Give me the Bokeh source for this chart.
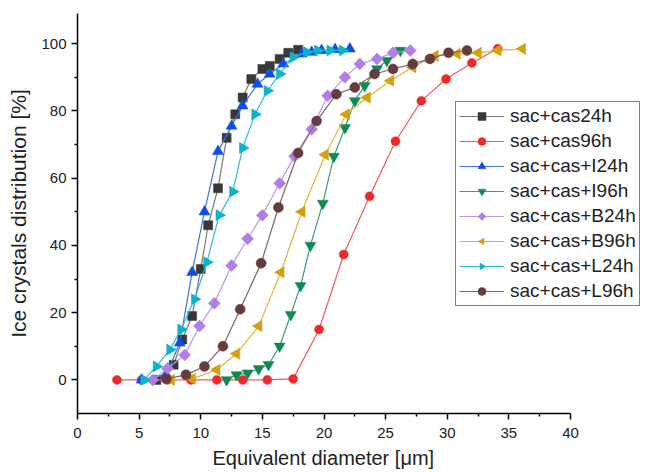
import math
from bokeh.plotting import figure
from bokeh.models import Legend, LegendItem, FixedTicker, ColumnDataSource, Title
from bokeh.embed import file_html
from bokeh.resources import INLINE

# ---- data ----
x_cas24 = [6.4, 7.8, 8.5, 9.3, 10.0, 10.6, 11.4, 12.1, 12.8, 13.4, 14.1, 15.0, 15.6, 16.4, 17.1, 17.9]
y_cas24 = [0, 4.5, 12, 19, 33, 46, 57, 72, 79, 84, 89.5, 92.5, 93.4, 95.5, 97.3, 98.2]

x_cas96 = [3.2, 5.2, 7.3, 9.2, 11.3, 13.4, 15.4, 17.5, 19.6, 21.6, 23.7, 25.8, 27.9, 29.9, 32.0, 34.1]
y_cas96 = [0, 0, 0, 0, 0, 0, 0, 0.3, 15, 37.3, 54.6, 71, 83, 89.5, 94.3, 98.5]

x_i24 = [5.2, 7.2, 8.3, 9.3, 10.3, 11.4, 12.5, 13.4, 14.6, 15.6, 16.7, 18.2, 19.0, 19.8, 20.9, 22.1]
y_i24 = [0, 1.5, 11, 32, 50, 68, 75.5, 81.5, 88, 91, 94, 97, 97.5, 98, 98.3, 98.5]

x_i96 = [12.1, 12.9, 13.8, 14.7, 15.5, 16.4, 17.3, 18.1, 18.9, 19.9, 20.8, 21.7, 22.5, 23.3, 24.3, 25.1, 26.2]
y_i96 = [0, 1.5, 2, 3.3, 4.5, 10, 19.4, 28, 40, 52.5, 66.5, 75, 83, 87.5, 92.5, 95, 98]

x_b24 = [6.1, 7.3, 8.7, 9.9, 11.1, 12.5, 13.8, 15.0, 16.4, 17.6, 19.0, 20.3, 21.7, 22.9, 24.3, 25.6, 27.0]
y_b24 = [0, 3.4, 7.4, 16, 22.8, 34, 42, 49, 58.5, 66.5, 74.6, 84.5, 90, 94, 95.5, 97.3, 98]

x_b96 = [7.6, 9.3, 11.3, 12.9, 14.7, 16.5, 18.2, 20.1, 21.8, 23.5, 25.4, 27.2, 29.0, 30.8, 32.5, 34.1, 36.1]
y_b96 = [0, 0.3, 3, 7.8, 16, 32, 50, 67, 79, 84, 89, 93, 96.4, 97, 97.3, 98, 98.5]

x_l24 = [5.4, 6.4, 7.5, 8.4, 9.5, 10.5, 11.5, 12.6, 13.4, 14.4, 15.4, 16.4, 17.5, 18.6, 19.5, 20.5, 21.5]
y_l24 = [0, 4, 9, 15, 24, 35, 49, 56, 69, 79, 86, 91, 96, 97.5, 98, 98, 98]

x_l96 = [7.2, 8.8, 10.3, 11.8, 13.2, 14.9, 16.3, 17.9, 19.4, 21.0, 22.5, 24.1, 25.6, 27.2, 28.6, 30.1, 31.6]
y_l96 = [0.3, 1.5, 4, 10, 21, 34.7, 51.3, 67.5, 77, 85, 87, 91, 92.5, 94, 95.5, 97.3, 98]

labels = ["sac+cas24h", "sac+cas96h", "sac+cas+I24h", "sac+cas+I96h",
          "sac+cas+B24h", "sac+cas+B96h", "sac+cas+L24h", "sac+cas+L96h"]
x_ticks = [0, 5, 10, 15, 20, 25, 30, 35, 40]
y_ticks = [0, 20, 40, 60, 80, 100]

# "left"/"right" = triangle pointing left/right, "rhomb" = square standing on a corner
series = [
    (x_cas24, y_cas24, "square", "#383838", "#7a7a7a", 9),
    (x_cas96, y_cas96, "circle", "#f02828", "#f25a5a", 9),
    (x_i24, y_i24, "triangle", "#0c4ee6", "#4070e6", 11),
    (x_i96, y_i96, "inverted_triangle", "#0f8a55", "#3c9c72", 11),
    (x_b24, y_b24, "rhomb", "#b07ee6", "#b898e4", 6),
    (x_b96, y_b96, "left", "#d4a010", "#e2b43a", 6.5),
    (x_l24, y_l24, "right", "#0eb2cc", "#30bcd2", 6.5),
    (x_l96, y_l96, "circle", "#643c3c", "#826464", 10),
]

FONT = "Liberation Sans"
X_END = 40 * 571 / 493.0  # frame runs past the axis end so the legend is not clipped

p = figure(width=648, height=472, output_backend="svg", toolbar_location=None,
           x_range=(0, X_END), y_range=(-10, 109),
           min_border_left=77, min_border_right=0, min_border_top=13, min_border_bottom=0)
p.outline_line_color = None
p.grid.visible = False
p.background_fill_color = "white"
p.border_fill_color = "white"

for ax in (p.xaxis[0], p.yaxis[0]):
    ax.axis_line_width = 1.5
    ax.axis_line_color = "black"
    ax.major_tick_line_color = "black"
    ax.minor_tick_line_color = "black"
    ax.major_tick_line_width = 1.5
    ax.minor_tick_line_width = 1.5
    ax.major_tick_out = 6
    ax.major_tick_in = 0
    ax.minor_tick_out = 3
    ax.minor_tick_in = 0
    ax.major_label_text_font = FONT
    ax.major_label_text_font_size = "15px"
    ax.major_label_text_color = "#222222"
    ax.axis_label_text_font = FONT
    ax.axis_label_text_font_style = "normal"
    ax.axis_label_text_color = "#222222"

p.xaxis[0].bounds = (0, 40)
p.xaxis[0].ticker = FixedTicker(ticks=x_ticks, minor_ticks=[2.5 + 5 * i for i in range(8)])
p.yaxis[0].ticker = FixedTicker(ticks=y_ticks, minor_ticks=[10 + 20 * i for i in range(5)])
p.yaxis[0].axis_label = "Ice crystals distribution [%]"
p.yaxis[0].axis_label_text_font_size = "21px"
p.yaxis[0].axis_label_standoff = 8
p.xaxis[0].major_label_standoff = 8
p.yaxis[0].major_label_standoff = 5

# x-axis title placed under the 0..40 span (the frame is wider than the axis)
xtitle = Title(text="Equivalent diameter [μm]", align="left", offset=135,
               text_font=FONT, text_font_size="20px", text_font_style="normal",
               text_color="#222222", standoff=8)
p.add_layout(xtitle, "below")

items = []
for (xs, ys, marker, mc, lc, sz), lab in zip(series, labels):
    src = ColumnDataSource(dict(x=xs, y=ys))
    r1 = p.line("x", "y", source=src, line_color=lc, line_width=1.2)
    if marker in ("left", "right", "rhomb"):
        n = 4 if marker == "rhomb" else 3
        ang = {"left": math.pi / 2, "right": -math.pi / 2, "rhomb": 0.0}[marker]
        r2 = p.ngon("x", "y", source=src, radius=sz, radius_units="screen", n=n,
                    angle=ang, fill_color=mc, line_color=mc, line_width=0.5)
    else:
        r2 = p.scatter("x", "y", source=src, marker=marker, size=sz,
                       fill_color=mc, line_color=mc, line_width=0.5)
    items.append(LegendItem(label=lab, renderers=[r1, r2]))

legend = Legend(items=items, location=(378, 107))
legend.label_text_font = FONT
legend.label_text_font_size = "19px"
legend.label_text_color = "#222222"
legend.glyph_width = 45
legend.glyph_height = 20
legend.label_height = 20
legend.label_standoff = 6
legend.spacing = 3
legend.padding = 3
legend.margin = 0
legend.border_line_color = "black"
legend.border_line_width = 1
legend.background_fill_color = "white"
legend.background_fill_alpha = 1.0
p.add_layout(legend, "center")

open("out.html", "w").write(file_html(p, INLINE))
